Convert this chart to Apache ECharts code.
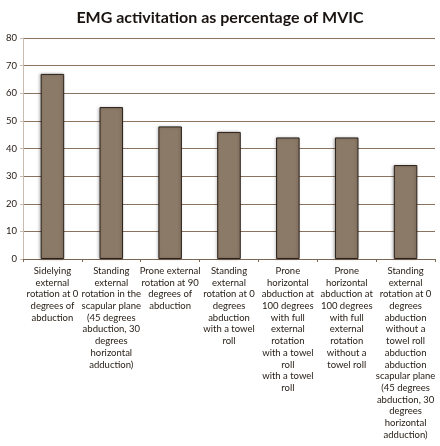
<!DOCTYPE html>
<html>
<head>
<meta charset="utf-8">
<script src="https://cdn.jsdelivr.net/npm/echarts@6/dist/echarts.min.js"></script>
<style>
  html, body { margin: 0; padding: 0; background: #fff; }
  #main { width: 440px; height: 446px; }
</style>
</head>
<body>
<div id="main"></div>
<script>
const categories = [
  "Sidelying\nexternal\nrotation at 0\ndegrees of\nabduction",
  "Standing\nexternal\nrotation in the\nscapular plane\n(45 degrees\nabduction, 30\ndegrees\nhorizontal\nadduction)",
  "Prone external\nrotation at 90\ndegrees of\nabduction",
  "Standing\nexternal\nrotation at 0\ndegrees\nabduction\nwith a towel\nroll",
  "Prone\nhorizontal\nabduction at\n100 degrees\nwith full\nexternal\nrotation\nwith a towel\nroll\nwith a towel\nroll",
  "Prone\nhorizontal\nabduction at\n100 degrees\nwith full\nexternal\nrotation\nwithout a\ntowel roll",
  "Standing\nexternal\nrotation at 0\ndegrees\nabduction\nwithout a\ntowel roll\nabduction\nabduction\nscapular plane\n(45 degrees\nabduction, 30\ndegrees\nhorizontal\nadduction)"
];
const values = [67, 55, 48, 46, 44, 44, 34];

const chartDom = document.getElementById("main");
const myChart = echarts.init(chartDom);

const option = {
  animation: false,
  textStyle: { fontFamily: "Lato" },
  title: {
    text: "EMG activitation as percentage of MVIC",
    left: "center",
    top: 5,
    textStyle: { fontSize: 16, fontWeight: "bold", color: "#1a1410", fontFamily: "Lato" },
  },
  grid: { left: 23, right: 5, top: 38, bottom: 187 },
  xAxis: {
    type: "category",
    data: categories,
    axisLine: { lineStyle: { color: "#7a6654", width: 1 } },
    axisTick: { show: true, length: 3, lineStyle: { color: "#7a6654" } },
    axisLabel: {
      interval: 0,
      fontSize: 9.5,
      lineHeight: 11.7,
      color: "#231a12",
      margin: 6,
      align: "center",
    },
  },
  yAxis: {
    type: "value",
    min: 0,
    max: 80,
    interval: 10,
    axisLine: { show: true, lineStyle: { color: "#c8bcb0" } },
    axisTick: { show: true, length: 3, lineStyle: { color: "#c8bcb0" } },
    axisLabel: { fontSize: 9.5, color: "#231a12", margin: 6 },
    splitLine: { lineStyle: { color: "#8a735f", width: 1 } },
  },
  series: [
    {
      type: "bar",
      data: values,
      barWidth: "40%",
      itemStyle: {
        color: "#8c7a68",
        borderColor: "#2a2018",
        borderWidth: 1,
        shadowBlur: 3,
        shadowColor: "rgba(0,0,0,0.25)",
        shadowOffsetX: -1,
      },
    },
  ],
};

option && myChart.setOption(option);
</script>
</body>
</html>
